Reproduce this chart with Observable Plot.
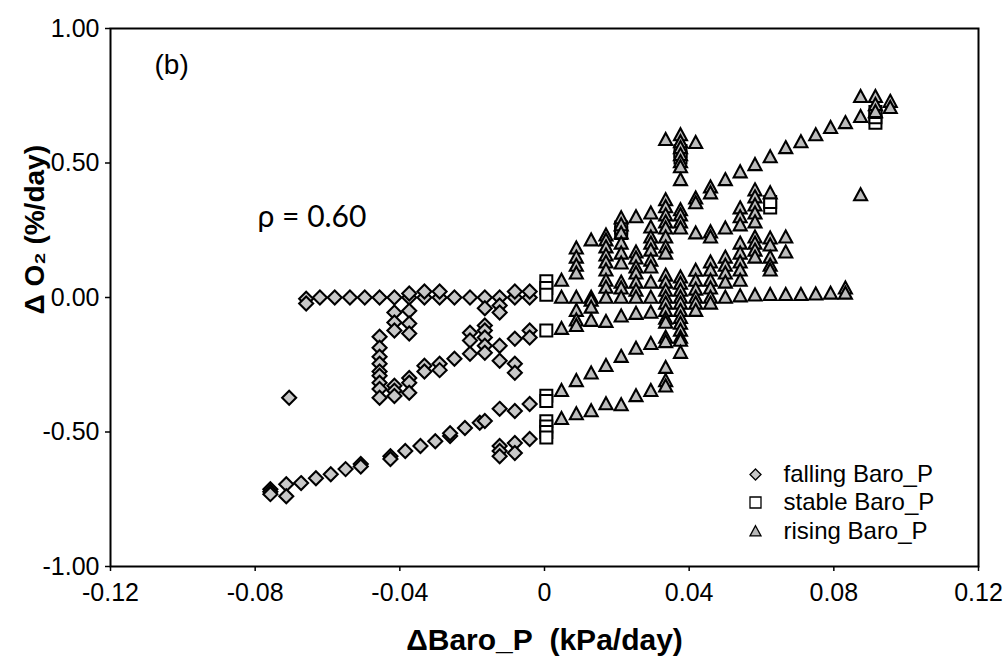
<!DOCTYPE html>
<html><head><meta charset="utf-8">
<script src="https://cdn.jsdelivr.net/npm/d3@7"></script>
<script src="https://cdn.jsdelivr.net/npm/@observablehq/plot@0.6"></script>
<style>html,body{margin:0;padding:0;background:#fff;} #chart svg{display:block;}</style>
</head><body><div id="chart"></div>
<script>
// ---- axis ticks & labels ----
const xTicks = [-0.12, -0.08, -0.04, 0, 0.04, 0.08, 0.12];
const xTickLabels = ["-0.12", "-0.08", "-0.04", "0", "0.04", "0.08", "0.12"];
const yTicks = [-1, -0.5, 0, 0.5, 1];
const yTickLabels = ["-1.00", "-0.50", "0.00", "0.50", "1.00"];
const xTitle = "\u0394Baro_P\u00a0 (kPa/day)";
const yTitle = "\u0394 O\u2082 (%/day)";
const panelLabel = "(b)";
const rhoLabel = "\u03c1 = 0.60";
const legendLabels = ["falling Baro_P", "stable Baro_P", "rising Baro_P"];

// ---- falling Baro_P (diamonds): [dBaro_P, dO2] ----
const falling = [
  [-0.0659,-0.005],[-0.0659,-0.022],[-0.0621,0],[-0.0580,0],[-0.0538,0],[-0.0497,0],[-0.0456,0],
  [-0.0415,0],[-0.0374,0],[-0.0374,0.015],[-0.0332,0],[-0.0332,0.022],[-0.0290,0],[-0.0290,0.022],
  [-0.0249,0],[-0.0206,0],[-0.0165,0],[-0.0124,0],[-0.0082,0],[-0.0082,0.022],[-0.0041,0],[-0.0041,0.022],
  [-0.0165,-0.040],[-0.0124,-0.030],[-0.0124,-0.056],
  [-0.0415,-0.056],[-0.0415,-0.093],[-0.0415,-0.123],[-0.0374,-0.049],[-0.0374,-0.097],[-0.0374,-0.134],
  [-0.0456,-0.146],[-0.0456,-0.187],[-0.0456,-0.220],[-0.0456,-0.246],[-0.0456,-0.275],[-0.0456,-0.291],
  [-0.0456,-0.317],[-0.0456,-0.340],[-0.0456,-0.373],
  [-0.0415,-0.328],[-0.0415,-0.347],[-0.0415,-0.366],[-0.0374,-0.299],[-0.0374,-0.317],[-0.0374,-0.354],
  [-0.0332,-0.254],[-0.0332,-0.275],[-0.0290,-0.246],[-0.0290,-0.270],[-0.0249,-0.228],
  [-0.0206,-0.131],[-0.0206,-0.160],[-0.0206,-0.209],[-0.0165,-0.104],[-0.0165,-0.123],[-0.0165,-0.149],
  [-0.0165,-0.179],[-0.0165,-0.205],[-0.0124,-0.179],[-0.0124,-0.235],[-0.0082,-0.153],[-0.0082,-0.246],
  [-0.0082,-0.280],[-0.0041,-0.123],[-0.0041,-0.149],
  [-0.0706,-0.373],
  [-0.0758,-0.713],[-0.0758,-0.722],[-0.0758,-0.731],[-0.0714,-0.694],[-0.0714,-0.739],[-0.0673,-0.690],
  [-0.0632,-0.672],[-0.0591,-0.657],[-0.0550,-0.638],[-0.0508,-0.619],[-0.0508,-0.628],[-0.0426,-0.590],
  [-0.0426,-0.600],[-0.0385,-0.571],[-0.0343,-0.552],[-0.0302,-0.534],[-0.0261,-0.515],[-0.0261,-0.505],
  [-0.0220,-0.485],[-0.0179,-0.466],[-0.0165,-0.459],[-0.0124,-0.414],[-0.0082,-0.422],[-0.0041,-0.396],
  [-0.0124,-0.552],[-0.0124,-0.571],[-0.0124,-0.590],[-0.0082,-0.541],[-0.0082,-0.578],[-0.0041,-0.526]
];

// ---- stable Baro_P (squares) ----
const stable = [
  [0.0005,0.060],[0.0005,0.035],[0.0005,0.010],[0.0005,-0.123],[0.0005,-0.365],[0.0005,-0.385],
  [0.0005,-0.460],[0.0005,-0.480],[0.0005,-0.500],[0.0005,-0.520],
  [0.0212,0.240],[0.0212,0.260],[0.0376,0.520],[0.0376,0.545],[0.0624,0.335],[0.0624,0.355],
  [0.0915,0.650],[0.0915,0.670],[0.0915,0.690]
];

// ---- rising Baro_P (triangles): x columns and the dO2 values in each ----
const risingX = [0.0047,0.0088,0.0129,0.0170,0.0212,0.0253,0.0294,0.0335,0.0376,0.0418,0.0459,0.0500,
                 0.0541,0.0582,0.0624,0.0667,0.0709,0.0750,0.0791,0.0832,0.0874,0.0915,0.0956];
const risingY = [
  [0.063,0,-0.116,-0.347,-0.451],
  [0.183,0.149,0.119,0.090,0,-0.049,-0.085,-0.105,-0.310,-0.433],
  [0.213,0,-0.011,-0.037,-0.086,-0.282,-0.422],
  [0.231,0.213,0.187,0.157,0.131,0.101,0.063,0.037,0,-0.090,-0.254,-0.396],
  [0.295,0.269,0.239,0.201,0.164,0.127,0.056,0.034,0,-0.070,-0.220,-0.400],
  [0.299,0.168,0.146,0.112,0.090,0.056,0.026,0,-0.060,-0.190,-0.366],
  [0.313,0.261,0.224,0.201,0.175,0.138,0.112,0.056,0,-0.056,-0.172,-0.347],
  [0.586,0.362,0.336,0.306,0.280,0.257,0.224,0.187,0.164,0.082,0.056,0.026,0,-0.022,-0.049,-0.078,-0.093,-0.149,-0.165,-0.261,-0.310,-0.330],
  [0.604,0.578,0.556,0.530,0.504,0.485,0.437,0.325,0.306,0.280,0.257,0.075,0.052,0.026,0,-0.022,-0.049,-0.075,-0.097,-0.123,-0.149,-0.160,-0.205],
  [0.575,0.369,0.351,0.239,0.100,0.063,0.030,0,-0.022,-0.049],
  [0.410,0.388,0.243,0.224,0.131,0.101,0.063,0.034,0,-0.022],
  [0.437,0.257,0.149,0.119,0.090,0.056,0],
  [0.466,0.332,0.299,0.269,0.201,0.164,0.131,0.101,0.063,0.005],
  [0.493,0.399,0.373,0.343,0.313,0.280,0.224,0.201,0.175,0.149,0.008],
  [0.522,0.388,0.220,0.194,0.149,0.119,0.101,0.010],
  [0.556,0.224,0.168,0.010],
  [0.578,0.010],
  [0.604,0.012],
  [0.631,0.015],
  [0.649,0.034,0.015],
  [0.672,0.746,0.381],
  [0.746,0.716,0.690],
  [0.728,0.705]
];
const rising = risingX.flatMap((x, i) => risingY[i].map(y => [x, y]));

// ---- symbols ----
const diamondSym = {draw(c, s) { const r = Math.sqrt(s / Math.PI); c.moveTo(0, -r); c.lineTo(r, 0); c.lineTo(0, r); c.lineTo(-r, 0); c.closePath(); }};
const squareSym = {draw(c, s) { const r = Math.sqrt(s / Math.PI); c.moveTo(-r, -r); c.lineTo(r, -r); c.lineTo(r, r); c.lineTo(-r, r); c.closePath(); }};
const triSym = {draw(c, s) { const r = Math.sqrt(s / Math.PI); c.moveTo(0, -r * 1.05); c.lineTo(r, r * 0.8); c.lineTo(-r, r * 0.8); c.closePath(); }};

const legendSyms = [diamondSym, squareSym, triSym];
const legendFills = ["#c6c6c6", "#ffffff", "#b8b8b8"];
const legendDy = [-92, -64, -35];

const legendMarks = legendLabels.flatMap((lab, i) => [
  Plot.dot([lab], {frameAnchor: "bottom-right", dx: -223, dy: legendDy[i], symbol: legendSyms[i], r: 5.5,
    fill: legendFills[i], stroke: "#000", strokeWidth: 1.3}),
  Plot.text([lab], {text: d => d, frameAnchor: "bottom-right", dx: -195, dy: legendDy[i], textAnchor: "start",
    lineAnchor: "middle", fontSize: 24, fill: "#000"})
]);

const chart = Plot.plot({
  width: 1008,
  height: 664,
  marginLeft: 110,
  marginRight: 30,
  marginTop: 28,
  marginBottom: 98,
  x: {domain: [-0.12, 0.12]},
  y: {domain: [-1, 1]},
  style: {fontFamily: "'Liberation Sans', Arial, sans-serif", fontSize: "25px", color: "#000", background: "#fff"},
  marks: [
    Plot.axisX({ticks: xTicks, tickFormat: d => xTickLabels[xTicks.indexOf(d)], tickSize: 5, tickPadding: 12, label: null, fontSize: 25, strokeWidth: 1.5}),
    Plot.axisY({ticks: yTicks, tickFormat: d => yTickLabels[yTicks.indexOf(d)], tickSize: 5, tickPadding: 6, label: null, fontSize: 25, strokeWidth: 1.5}),
    Plot.dot(falling, {x: d => d[0], y: d => d[1], symbol: diamondSym, r: 7, fill: "#c8c8c8", stroke: "#000", strokeWidth: 2.1}),
    Plot.dot(stable, {x: d => d[0], y: d => d[1], symbol: squareSym, r: 6, fill: "#ffffff", stroke: "#000", strokeWidth: 2}),
    Plot.dot(rising, {x: d => d[0], y: d => d[1], symbol: triSym, r: 6.5, fill: "#bcbcbc", stroke: "#000", strokeWidth: 2.1}),
    Plot.frame({stroke: "#000", strokeWidth: 2}),
    Plot.text([panelLabel], {text: d => d, frameAnchor: "top-left", dx: 44, dy: 37, textAnchor: "start", lineAnchor: "middle", fontSize: 28}),
    Plot.text([rhoLabel], {text: d => d, frameAnchor: "top-left", dx: 147, dy: 189, textAnchor: "start", lineAnchor: "middle", fontSize: 30, fontFamily: "Lato, 'Open Sans', sans-serif"}),
    Plot.text([xTitle], {text: d => d, frameAnchor: "bottom", dy: 74, lineAnchor: "middle", fontSize: 30, fontWeight: "bold"}),
    Plot.text([yTitle], {text: d => d, frameAnchor: "left", dx: -75, dy: 17, rotate: -90, lineAnchor: "middle", fontSize: 28, fontWeight: "bold"}),
    ...legendMarks
  ]
});
document.getElementById("chart").appendChild(chart);
</script></body></html>
